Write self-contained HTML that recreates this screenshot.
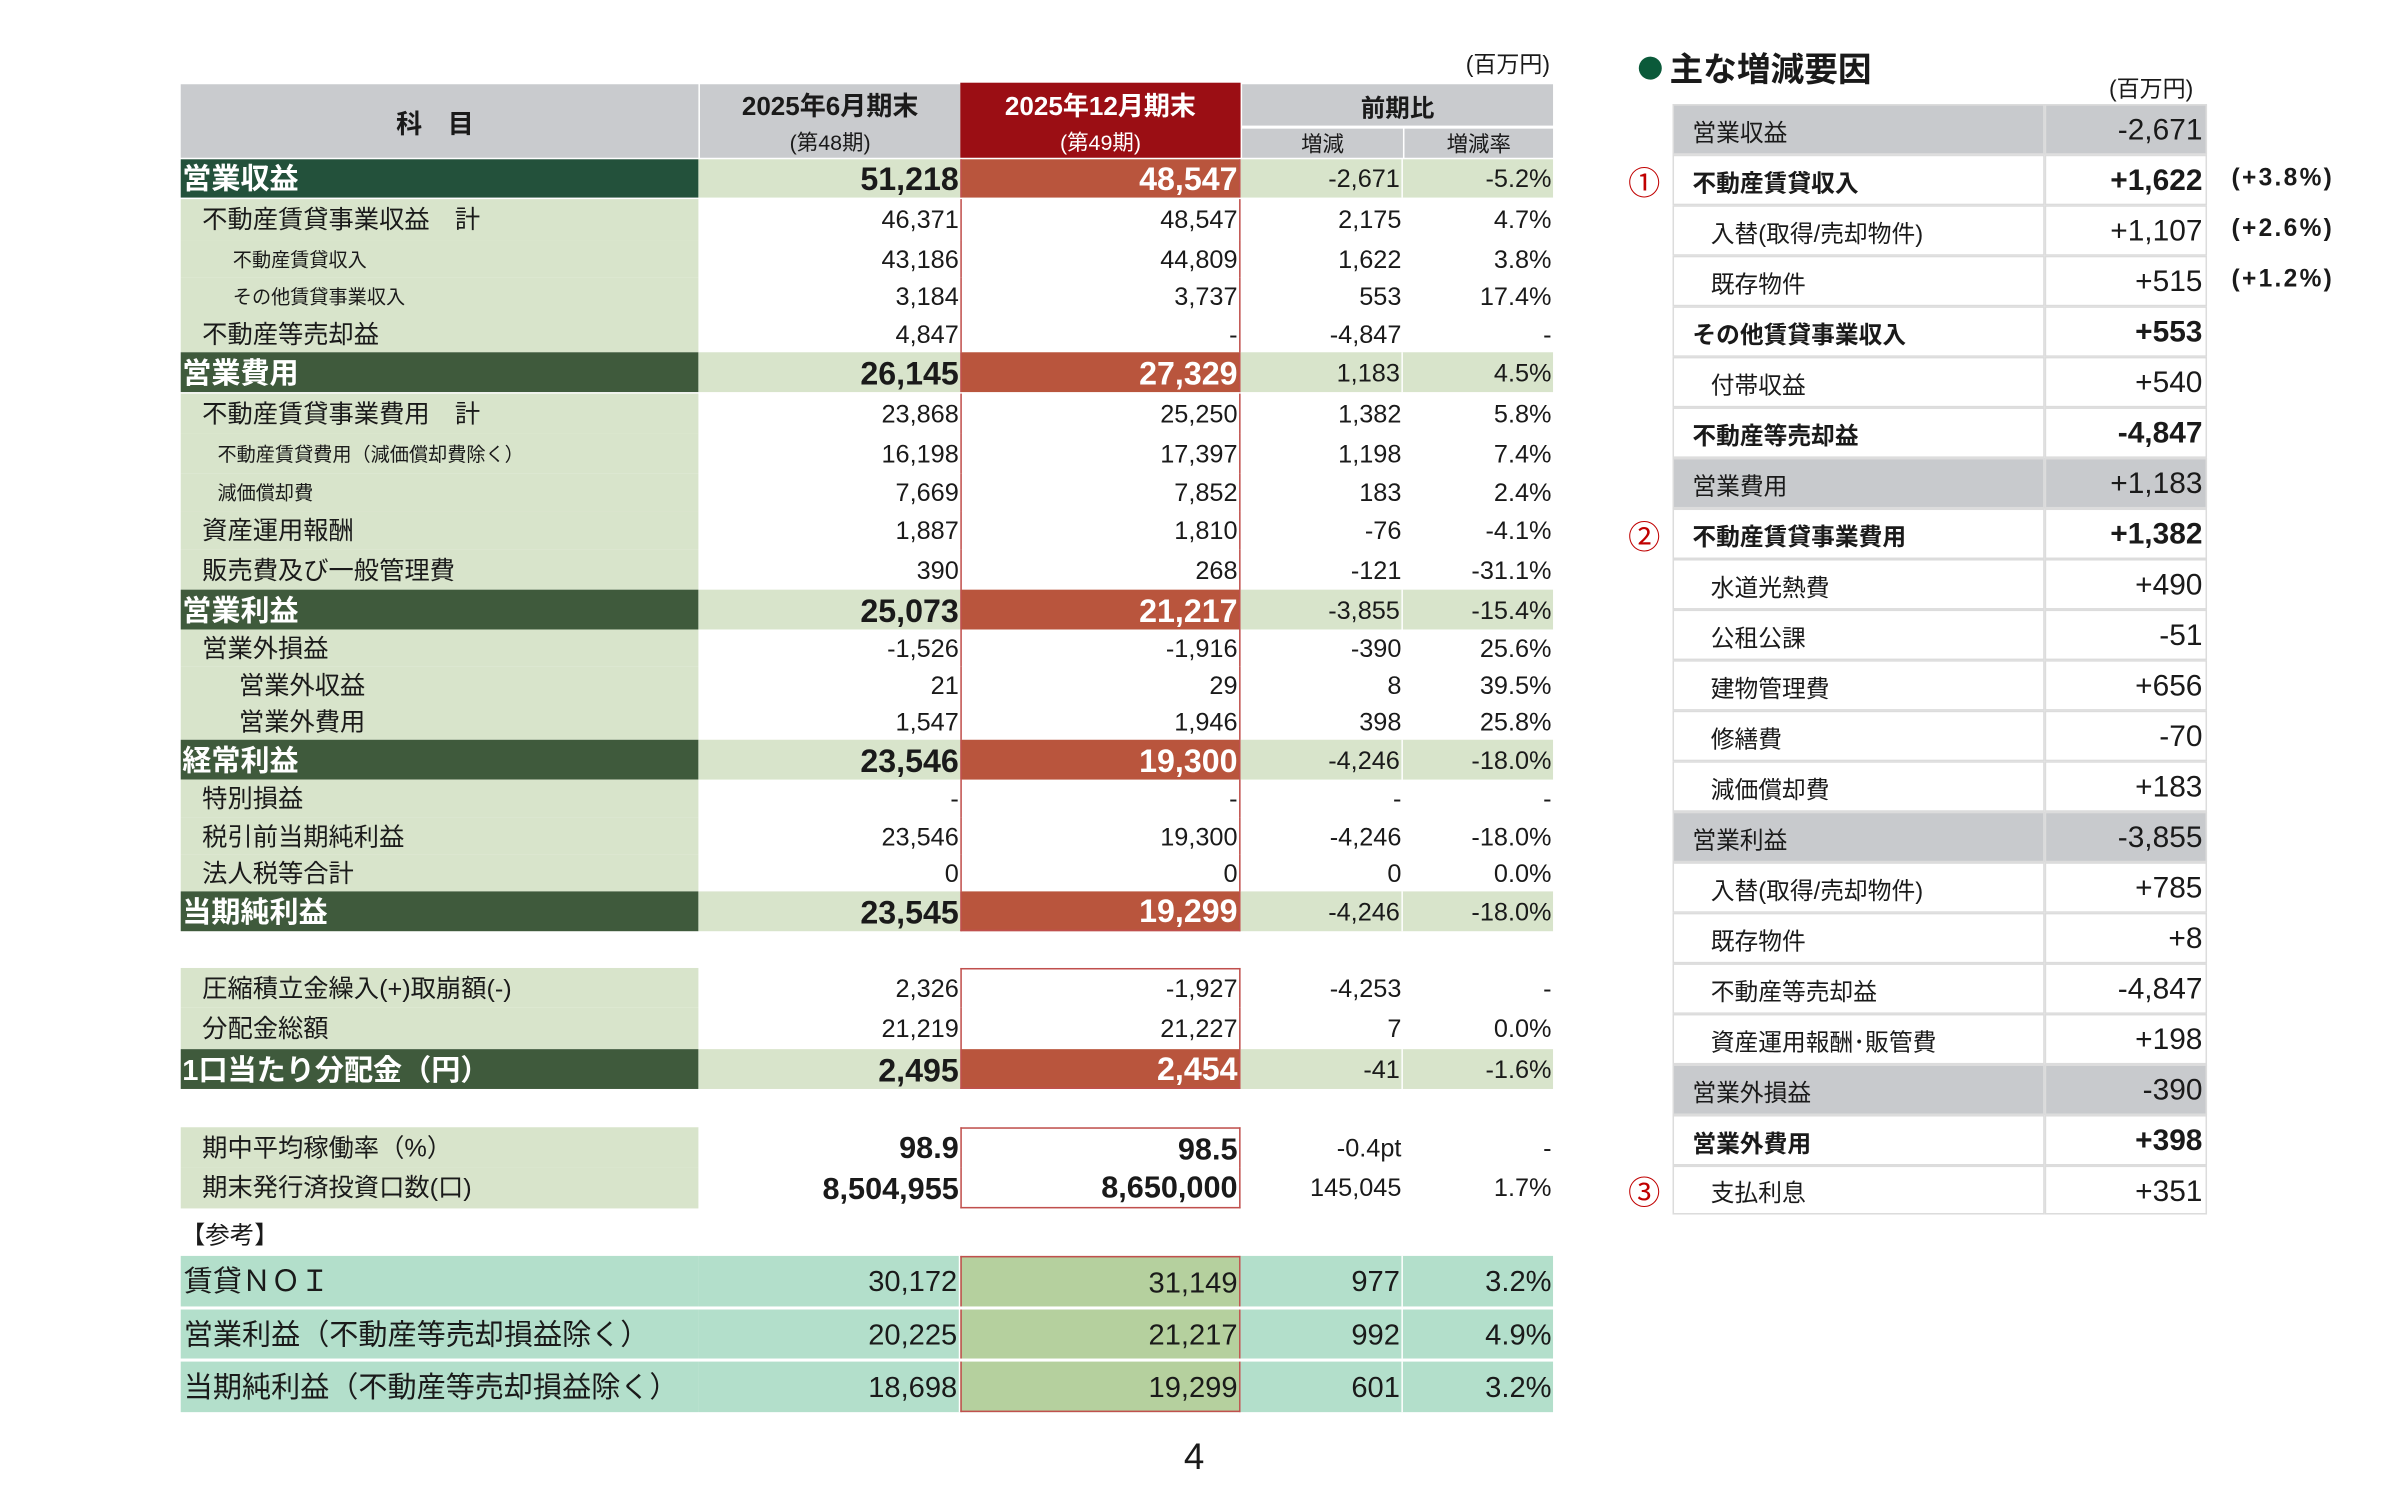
<!DOCTYPE html>
<html><head><meta charset="utf-8"><style>
*{margin:0;padding:0;box-sizing:border-box}
html,body{width:2400px;height:1499px;background:#fff;overflow:hidden}
#w{position:absolute;left:0;top:0;width:1570px;height:980px;transform:scale(1.5316);transform-origin:0 0;font-family:"Liberation Sans","Noto Sans CJK JP",sans-serif;color:#1a1a1a}
.a{position:absolute}
.row{position:absolute;left:118px;width:896px;display:flex}
.row>div{display:flex;align-items:center;justify-content:flex-end;padding-right:1px;padding-top:2px;white-space:nowrap;font-size:16.5px;line-height:1}
.c0{width:338px;justify-content:flex-start!important}
.c1{width:171px}.c2{width:183px}.c3{width:106px}.c4{width:98px}
.h .c0{background:#3f5a3c;color:#fff;font-weight:bold;font-size:19px;padding-left:1px}
.h .c1{background:#d8e4cb;font-weight:bold;font-size:21px}
.h .c2{background:#b9553d;color:#fff;font-weight:bold;font-size:21px;border-left:1px solid #c0504d;border-right:1px solid #c0504d}
.h .c3,.h .c4{background:#d8e4cb}
.h .c3{border-right:1px solid #fff}
.n .c0{background:#d8e4cb}
.n .c2{border-left:1px solid #c0504d;border-right:1px solid #c0504d}
.s{font-size:12.5px!important}
.r .c0,.r .c1,.r .c3,.r .c4{background:#b3dfcb;font-size:19px}
.r .c0{padding-left:2px}
.r .c1,.r .c3{border-right:1px solid #fff}
.r .c2{background:#b5d09e;font-size:19px;border-left:1px solid #c0504d;border-right:1px solid #c0504d}
.hd{position:absolute;top:55px;height:48px;background:#c9cbce;display:flex;flex-direction:column;align-items:center;justify-content:center}
.rt{position:absolute;left:1092px;width:349px;display:flex}
.rt>div{display:flex;align-items:center;font-size:15.5px;border:1px solid #dcdcdc;padding-top:2px}
.rt .l{width:243px;padding-left:12px}
.rt .v{width:106px;justify-content:flex-end;padding-right:2px;font-size:19.5px}
.rt.g>div{background:#c8cacd}
.rt.b>div{font-weight:bold}
.rt .i{padding-left:24px}
.cn{position:absolute;left:1063px;color:#c00000;font-size:21px}
.pc{position:absolute;left:1457px;font-size:16px;font-weight:bold;letter-spacing:1.5px}
</style></head><body><div id="w">
<div class="a" style="left:957px;top:31px;font-size:15px">(百万円)</div>

<div class="hd" style="left:118px;width:338px;font-weight:bold;font-size:17px;letter-spacing:6px">科 目</div>
<div class="hd" style="left:457px;width:170px"><div style="font-weight:bold;font-size:17px">2025年6月期末</div><div style="font-size:14px;margin-top:3px">(第48期)</div></div>
<div class="hd" style="left:627px;width:183px;background:#9b0e14;color:#fff;top:54px;height:49px"><div style="font-weight:bold;font-size:17px">2025年12月期末</div><div style="font-size:14px;margin-top:3px">(第49期)</div></div>
<div class="hd" style="left:811px;width:203px;height:27px;font-weight:bold;font-size:16px">前期比</div>
<div class="hd" style="left:811px;width:105px;top:84px;height:19px;font-size:14px">増減</div>
<div class="hd" style="left:917px;width:97px;top:84px;height:19px;font-size:14px">増減率</div>

<div class="row h" style="top:104px;height:25px"><div class="c0" style="background:#23513b">営業収益</div><div class="c1">51,218</div><div class="c2">48,547</div><div class="c3">-2,671</div><div class="c4">-5.2%</div></div>
<div class="row n" style="top:130px;height:27px"><div class="c0" style="padding-left:14px">不動産賃貸事業収益　計</div><div class="c1">46,371</div><div class="c2">48,547</div><div class="c3">2,175</div><div class="c4">4.7%</div></div>
<div class="row n" style="top:157px;height:24px"><div class="c0 s" style="padding-left:34px">不動産賃貸収入</div><div class="c1">43,186</div><div class="c2">44,809</div><div class="c3">1,622</div><div class="c4">3.8%</div></div>
<div class="row n" style="top:181px;height:25px"><div class="c0 s" style="padding-left:34px">その他賃貸事業収入</div><div class="c1">3,184</div><div class="c2">3,737</div><div class="c3">553</div><div class="c4">17.4%</div></div>
<div class="row n" style="top:206px;height:24px"><div class="c0" style="padding-left:14px">不動産等売却益</div><div class="c1">4,847</div><div class="c2">-</div><div class="c3">-4,847</div><div class="c4">-</div></div>
<div class="row h" style="top:230px;height:26px"><div class="c0">営業費用</div><div class="c1">26,145</div><div class="c2">27,329</div><div class="c3">1,183</div><div class="c4">4.5%</div></div>
<div class="row n" style="top:257px;height:26px"><div class="c0" style="padding-left:14px">不動産賃貸事業費用　計</div><div class="c1">23,868</div><div class="c2">25,250</div><div class="c3">1,382</div><div class="c4">5.8%</div></div>
<div class="row n" style="top:283px;height:26px"><div class="c0 s" style="padding-left:24px">不動産賃貸費用（減価償却費除く）</div><div class="c1">16,198</div><div class="c2">17,397</div><div class="c3">1,198</div><div class="c4">7.4%</div></div>
<div class="row n" style="top:309px;height:25px"><div class="c0 s" style="padding-left:24px">減価償却費</div><div class="c1">7,669</div><div class="c2">7,852</div><div class="c3">183</div><div class="c4">2.4%</div></div>
<div class="row n" style="top:334px;height:25px"><div class="c0" style="padding-left:14px">資産運用報酬</div><div class="c1">1,887</div><div class="c2">1,810</div><div class="c3">-76</div><div class="c4">-4.1%</div></div>
<div class="row n" style="top:359px;height:26px"><div class="c0" style="padding-left:14px">販売費及び一般管理費</div><div class="c1">390</div><div class="c2">268</div><div class="c3">-121</div><div class="c4">-31.1%</div></div>
<div class="row h" style="top:385px;height:26px"><div class="c0">営業利益</div><div class="c1">25,073</div><div class="c2">21,217</div><div class="c3">-3,855</div><div class="c4">-15.4%</div></div>
<div class="row n" style="top:411px;height:24px"><div class="c0" style="padding-left:14px">営業外損益</div><div class="c1">-1,526</div><div class="c2">-1,916</div><div class="c3">-390</div><div class="c4">25.6%</div></div>
<div class="row n" style="top:435px;height:24px"><div class="c0" style="padding-left:38px">営業外収益</div><div class="c1">21</div><div class="c2">29</div><div class="c3">8</div><div class="c4">39.5%</div></div>
<div class="row n" style="top:459px;height:24px"><div class="c0" style="padding-left:38px">営業外費用</div><div class="c1">1,547</div><div class="c2">1,946</div><div class="c3">398</div><div class="c4">25.8%</div></div>
<div class="row h" style="top:483px;height:26px"><div class="c0">経常利益</div><div class="c1">23,546</div><div class="c2">19,300</div><div class="c3">-4,246</div><div class="c4">-18.0%</div></div>
<div class="row n" style="top:509px;height:25px"><div class="c0" style="padding-left:14px">特別損益</div><div class="c1">-</div><div class="c2">-</div><div class="c3">-</div><div class="c4">-</div></div>
<div class="row n" style="top:534px;height:24px"><div class="c0" style="padding-left:14px">税引前当期純利益</div><div class="c1">23,546</div><div class="c2">19,300</div><div class="c3">-4,246</div><div class="c4">-18.0%</div></div>
<div class="row n" style="top:558px;height:24px"><div class="c0" style="padding-left:14px">法人税等合計</div><div class="c1">0</div><div class="c2">0</div><div class="c3">0</div><div class="c4">0.0%</div></div>
<div class="row h" style="top:582px;height:26px"><div class="c0">当期純利益</div><div class="c1">23,545</div><div class="c2" style="border-bottom:1px solid #c0504d">19,299</div><div class="c3">-4,246</div><div class="c4">-18.0%</div></div>

<div class="row n" style="top:632px;height:26px"><div class="c0" style="padding-left:14px">圧縮積立金繰入(+)取崩額(-)</div><div class="c1">2,326</div><div class="c2" style="border-top:1px solid #c0504d">-1,927</div><div class="c3">-4,253</div><div class="c4">-</div></div>
<div class="row n" style="top:658px;height:27px"><div class="c0" style="padding-left:14px">分配金総額</div><div class="c1">21,219</div><div class="c2">21,227</div><div class="c3">7</div><div class="c4">0.0%</div></div>
<div class="row h" style="top:685px;height:26px"><div class="c0">1口当たり分配金（円）</div><div class="c1">2,495</div><div class="c2" style="border-bottom:1px solid #c0504d">2,454</div><div class="c3">-41</div><div class="c4">-1.6%</div></div>

<div class="row n" style="top:736px;height:26px"><div class="c0" style="padding-left:14px">期中平均稼働率（%）</div><div class="c1" style="font-weight:bold;font-size:20px">98.9</div><div class="c2" style="border-top:1px solid #c0504d;font-weight:bold;font-size:20px">98.5</div><div class="c3">-0.4pt</div><div class="c4">-</div></div>
<div class="row n" style="top:762px;height:27px"><div class="c0" style="padding-left:14px">期末発行済投資口数(口)</div><div class="c1" style="font-weight:bold;font-size:20px">8,504,955</div><div class="c2" style="border-bottom:1px solid #c0504d;font-weight:bold;font-size:20px">8,650,000</div><div class="c3">145,045</div><div class="c4">1.7%</div></div>
<div class="a" style="left:118px;top:793px;font-size:16px">【参考】</div>

<div class="row r" style="top:820px;height:33px"><div class="c0">賃貸ＮＯＩ</div><div class="c1">30,172</div><div class="c2" style="border-top:1px solid #c0504d">31,149</div><div class="c3">977</div><div class="c4">3.2%</div></div>
<div class="row r" style="top:855px;height:32px"><div class="c0">営業利益（不動産等売却損益除く）</div><div class="c1">20,225</div><div class="c2">21,217</div><div class="c3">992</div><div class="c4">4.9%</div></div>
<div class="row r" style="top:889px;height:33px"><div class="c0">当期純利益（不動産等売却損益除く）</div><div class="c1">18,698</div><div class="c2" style="border-bottom:1px solid #c0504d">19,299</div><div class="c3">601</div><div class="c4">3.2%</div></div>

<div class="a" style="left:773px;top:938px;font-size:24px">4</div>

<!-- right panel -->
<div class="a" style="left:1070px;top:37px;width:15px;height:15px;border-radius:50%;background:#0b5a3a"></div>
<div class="a" style="left:1090px;top:28px;font-size:22px;font-weight:bold">主な増減要因</div>
<div class="a" style="left:1377px;top:47px;font-size:15px">(百万円)</div>

<div class="rt g" style="top:68px;height:33px"><div class="l">営業収益</div><div class="v">-2,671</div></div>
<div class="rt b" style="top:101px;height:33px"><div class="l">不動産賃貸収入</div><div class="v">+1,622</div></div>
<div class="rt" style="top:134px;height:33px"><div class="l i">入替(取得/売却物件)</div><div class="v">+1,107</div></div>
<div class="rt" style="top:167px;height:33px"><div class="l i">既存物件</div><div class="v">+515</div></div>
<div class="rt b" style="top:200px;height:33px"><div class="l">その他賃貸事業収入</div><div class="v">+553</div></div>
<div class="rt" style="top:233px;height:33px"><div class="l i">付帯収益</div><div class="v">+540</div></div>
<div class="rt b" style="top:266px;height:33px"><div class="l">不動産等売却益</div><div class="v">-4,847</div></div>
<div class="rt g" style="top:299px;height:33px"><div class="l">営業費用</div><div class="v">+1,183</div></div>
<div class="rt b" style="top:332px;height:33px"><div class="l">不動産賃貸事業費用</div><div class="v">+1,382</div></div>
<div class="rt" style="top:365px;height:33px"><div class="l i">水道光熱費</div><div class="v">+490</div></div>
<div class="rt" style="top:398px;height:33px"><div class="l i">公租公課</div><div class="v">-51</div></div>
<div class="rt" style="top:431px;height:33px"><div class="l i">建物管理費</div><div class="v">+656</div></div>
<div class="rt" style="top:464px;height:33px"><div class="l i">修繕費</div><div class="v">-70</div></div>
<div class="rt" style="top:497px;height:33px"><div class="l i">減価償却費</div><div class="v">+183</div></div>
<div class="rt g" style="top:530px;height:33px"><div class="l">営業利益</div><div class="v">-3,855</div></div>
<div class="rt" style="top:563px;height:33px"><div class="l i">入替(取得/売却物件)</div><div class="v">+785</div></div>
<div class="rt" style="top:596px;height:33px"><div class="l i">既存物件</div><div class="v">+8</div></div>
<div class="rt" style="top:629px;height:33px"><div class="l i">不動産等売却益</div><div class="v">-4,847</div></div>
<div class="rt" style="top:662px;height:33px"><div class="l i">資産運用報酬･販管費</div><div class="v">+198</div></div>
<div class="rt g" style="top:695px;height:33px"><div class="l">営業外損益</div><div class="v">-390</div></div>
<div class="rt b" style="top:728px;height:33px"><div class="l">営業外費用</div><div class="v">+398</div></div>
<div class="rt" style="top:761px;height:32px"><div class="l i">支払利息</div><div class="v">+351</div></div>

<div class="cn" style="top:104px">①</div>
<div class="cn" style="top:335px">②</div>
<div class="cn" style="top:763px">③</div>
<div class="pc" style="top:108px">(+3.8%)</div>
<div class="pc" style="top:141px">(+2.6%)</div>
<div class="pc" style="top:174px">(+1.2%)</div>
</div></body></html>
